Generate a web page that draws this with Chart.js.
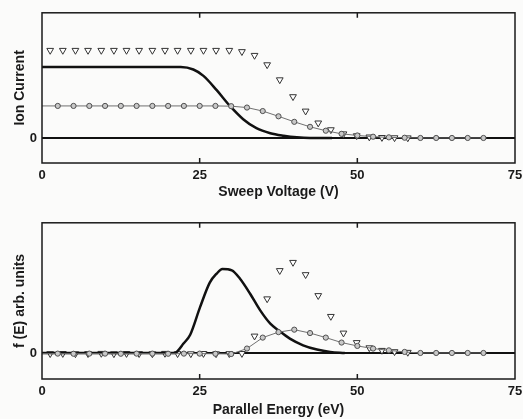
<!DOCTYPE html>
<html>
<head>
<meta charset="utf-8">
<script src="https://cdn.jsdelivr.net/npm/chart.js@4.4.1/dist/chart.umd.min.js"></script>
<style>
  body { margin: 0; background: #fbfbfa; }
  canvas { display: block; }
</style>
</head>
<body>
<canvas id="chartTop" width="523" height="210"></canvas>
<canvas id="chartBottom" width="523" height="209"></canvas>
<script>
// x ticks (both panels)
const xTicks = [0, 25, 50, 75];

// ---- top panel: Ion Current vs Sweep Voltage ----
const triX = [1.3, 3.3, 5.3, 7.3, 9.4, 11.4, 13.4, 15.4, 17.5, 19.5, 21.5, 23.6, 25.6, 27.6, 29.7,
              31.7, 33.7, 35.7, 37.7, 39.8, 41.8, 43.8, 45.8, 47.8, 49.9, 51.9, 53.9, 55.9, 58.0];
const triTop = [0.70, 0.70, 0.70, 0.70, 0.70, 0.70, 0.70, 0.70, 0.70, 0.70, 0.70, 0.70, 0.70, 0.70, 0.70,
                0.69, 0.66, 0.585, 0.465, 0.33, 0.215, 0.12, 0.066, 0.033, 0.018, 0.008, 0.004, 0.002, 0.001];

const circX = [0, 2.5, 5, 7.5, 10, 12.5, 15, 17.5, 20, 22.5, 25, 27.5, 30,
               32.5, 35, 37.5, 40, 42.5, 45, 47.5, 50, 52.5, 55, 57.5, 60, 62.5, 65, 67.5, 70];
const circTop = [0.256, 0.256, 0.256, 0.256, 0.256, 0.256, 0.256, 0.256, 0.256, 0.256, 0.256, 0.256, 0.254,
                 0.243, 0.215, 0.173, 0.129, 0.089, 0.058, 0.033, 0.02, 0.01, 0.005, 0.002, 0, 0, 0, 0, 0];

const solidTopX = [0, 22, 24, 25.6, 27.7, 29.8, 31.9, 34, 36.2, 38.3, 40.4, 42.5, 46];
const solidTopY = [0.567, 0.567, 0.547, 0.496, 0.382, 0.256, 0.15, 0.078, 0.038, 0.018, 0.005, 0, 0];

// ---- bottom panel: f(E) vs Parallel Energy ----
const triBottom = [-0.005, -0.004, -0.006, -0.005, -0.003, -0.006, -0.004, -0.005, -0.006, -0.003, -0.005, -0.006, -0.004, -0.006, -0.005,
                   -0.004, 0.13, 0.416, 0.633, 0.696, 0.602, 0.441, 0.281, 0.153, 0.08, 0.04, 0.02, 0.01, 0.005];

const circBottom = [-0.005, -0.005, -0.006, -0.005, -0.005, -0.006, -0.005, -0.005, -0.006, -0.005, -0.005, -0.006, -0.008,
                    0.034, 0.118, 0.16, 0.179, 0.153, 0.118, 0.08, 0.054, 0.034, 0.02, 0.008, 0, 0, 0, 0, 0];

const solidBotX = [0, 21.1, 21.6, 22.4, 23.5, 25.05, 26.6, 27.7, 28.6, 30.1, 31.4, 33.0, 34.6, 36.2, 37.5, 39.3, 41.4, 43.6, 45.7, 48];
const solidBotY = [0, 0, 0.02, 0.07, 0.14, 0.35, 0.54, 0.61, 0.645, 0.635, 0.57, 0.455, 0.327, 0.225, 0.174, 0.11, 0.059, 0.026, 0.008, 0];

const FONT = "'Liberation Sans', Arial, sans-serif";

function pts(xs, ys) {
    return xs.map((x, i) => ({ x: x, y: ys[i] }));
}

// frame + inward ticks at 25 / 50
const framePlugin = {
    id: 'frame',
    afterDraw(chart) {
        const { ctx, chartArea: a, scales } = chart;
        ctx.save();
        ctx.strokeStyle = '#1a1a1a';
        ctx.lineWidth = 1.5;
        ctx.strokeRect(a.left, a.top, a.right - a.left, a.bottom - a.top);
        [25, 50].forEach(v => {
            const px = scales.x.getPixelForValue(v);
            ctx.beginPath();
            ctx.moveTo(px, a.top); ctx.lineTo(px, a.top + 5);
            ctx.moveTo(px, a.bottom); ctx.lineTo(px, a.bottom - 5);
            ctx.stroke();
        });
        ctx.restore();
    }
};

function makeChart(id, padTop, padBottom, axisH, xTitle, yTitle, circY, triY, solid) {
    const ctx = document.getElementById(id).getContext('2d');
    return new Chart(ctx, {
        type: 'scatter',
        data: {
            datasets: [
                {
                    data: pts(circX, circY),
                    showLine: true,
                    borderColor: '#707070',
                    borderWidth: 1,
                    pointStyle: 'circle',
                    pointRadius: c => c.dataIndex === 0 ? 0 : 2.6,
                    pointBackgroundColor: '#c8c8c8',
                    pointBorderColor: '#505050',
                    pointBorderWidth: 1
                },
                {
                    data: pts(solid[0], solid[1]),
                    showLine: true,
                    borderColor: '#111',
                    borderWidth: 2.5,
                    pointRadius: 0,
                    cubicInterpolationMode: 'monotone'
                },
                {
                    data: pts(triX, triY),
                    showLine: false,
                    pointStyle: 'triangle',
                    rotation: 180,
                    pointRadius: 3.9,
                    pointBackgroundColor: '#ffffff',
                    pointBorderColor: '#333',
                    pointBorderWidth: 1
                }
            ]
        },
        options: {
            responsive: false,
            animation: false,
            layout: { padding: { top: padTop, right: 8, bottom: padBottom, left: 0 } },
            plugins: { legend: { display: false }, tooltip: { enabled: false } },
            scales: {
                x: {
                    type: 'linear',
                    min: 0, max: 75,
                    afterBuildTicks: s => { s.ticks = xTicks.map(v => ({ value: v })); },
                    afterFit: s => { s.height = axisH; s.paddingLeft = 0; s.paddingRight = 0; },
                    grid: { display: false, drawTicks: false },
                    border: { display: false },
                    ticks: { padding: 5, color: '#1a1a1a', font: { family: FONT, size: 13, weight: 'bold' }, maxRotation: 0 },
                    title: { display: true, text: xTitle, color: '#1a1a1a', padding: 0,
                             font: { family: FONT, size: 14, weight: 'bold' } }
                },
                y: {
                    min: -0.2, max: 1.0,
                    afterBuildTicks: s => { s.ticks = [{ value: 0 }]; },
                    afterFit: s => { s.width = 42; },
                    grid: { drawTicks: false, color: '#111', lineWidth: 2 },
                    border: { display: false },
                    ticks: { padding: 5, color: '#1a1a1a', font: { family: FONT, size: 13, weight: 'bold' } },
                    title: { display: true, text: yTitle, color: '#1a1a1a', padding: { top: 12, bottom: 0 },
                             font: { family: FONT, size: 14, weight: 'bold' } }
                }
            }
        },
        plugins: [framePlugin]
    });
}

makeChart('chartTop', 5, 9, 38, 'Sweep Voltage (V)', 'Ion Current', circTop, triTop, [solidTopX, solidTopY]);
makeChart('chartBottom', 12, 0, 40, 'Parallel Energy (eV)', 'f (E) arb. units', circBottom, triBottom, [solidBotX, solidBotY]);
</script>
</body>
</html>
